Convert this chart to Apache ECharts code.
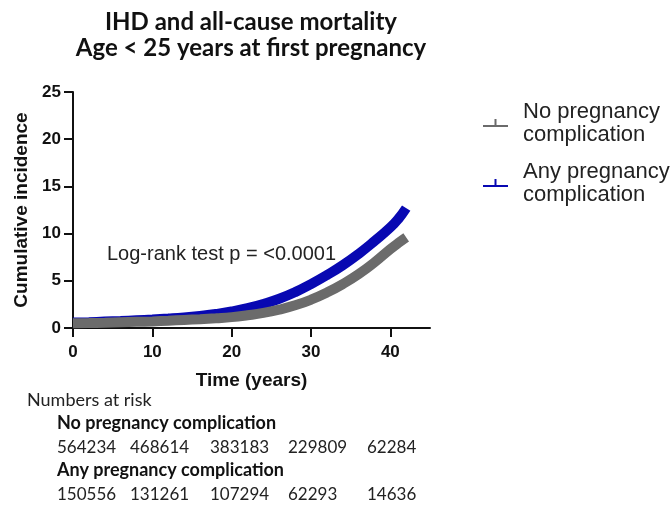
<!DOCTYPE html>
<html><head><meta charset="utf-8">
<script src="https://cdn.jsdelivr.net/npm/echarts@6/dist/echarts.min.js"></script>
<style>html,body{margin:0;padding:0;background:#fff;}#c{width:671px;height:506px;}</style>
</head><body><div id="c"></div>
<script>
// ---- data ----
const titleLines = ['IHD and all-cause mortality', 'Age < 25 years at first pregnancy'];
const seriesNames = ['No pregnancy complication', 'Any pregnancy complication'];
const legendLabels = ['No pregnancy\ncomplication', 'Any pregnancy\ncomplication'];
const timeYears = [0,2,4,6,8,10,12,14,16,18,20,22,24,26,28,30,32,34,36,38,40,41,42];
const noComplication = [0.5,0.52,0.55,0.6,0.65,0.7,0.77,0.85,0.93,1.03,1.15,1.35,1.6,1.95,2.4,3.0,3.75,4.65,5.7,6.95,8.35,9.0,9.6];
const anyComplication = [0.58,0.62,0.68,0.74,0.82,0.9,1.0,1.12,1.28,1.48,1.75,2.1,2.55,3.1,3.8,4.65,5.6,6.65,7.85,9.2,10.65,11.55,12.7];
const xTicks = [0,10,20,30,40];
const logRankText = 'Log-rank test p = <0.0001';
const riskHeader = 'Numbers at risk';
const riskNoComplication = [564234, 468614, 383183, 229809, 62284];
const riskAnyComplication = [150556, 131261, 107294, 62293, 14636];

const GRAY = '#6b6b6b', BLUE = '#0808b2';
const chart = echarts.init(document.getElementById('c'), null, {renderer:'canvas'});
const pair = (xs, ys) => xs.map((x,i)=>[x, ys[i]]);
const legendIcon = 'path://M0,6 L25,6 L25,8 L0,8 Z M11.5,0 L13.5,0 L13.5,6 L11.5,6 Z';

const riskCols = [57,130,210,288,367];
const graphics = [
  {type:'text', left:107, top:244, style:{text:logRankText, font:'20px "Liberation Sans", Arial', fill:'#222'}},
  {type:'text', left:27, top:391, style:{text:riskHeader, font:'18px Lato', fill:'#222'}},
  {type:'text', left:57, top:414, style:{text:seriesNames[0], font:'bold 18px Lato', fill:'#111'}},
  {type:'text', left:57, top:461, style:{text:seriesNames[1], font:'bold 18px Lato', fill:'#111'}}
];
riskNoComplication.forEach((v,i)=>graphics.push({type:'text', left:riskCols[i], top:439, style:{text:String(v), font:'17px Lato', fill:'#222'}}));
riskAnyComplication.forEach((v,i)=>graphics.push({type:'text', left:riskCols[i], top:486, style:{text:String(v), font:'17px Lato', fill:'#222'}}));

chart.setOption({
  animation:false,
  title:{text:titleLines.join('\n'), left:246, textAlign:'center', top:4,
    textStyle:{fontFamily:'Lato', fontWeight:'bold', fontSize:24, lineHeight:26, color:'#111'}},
  legend:{orient:'vertical', left:483, top:100, padding:0, itemWidth:25, itemHeight:8, itemGap:14,
    icon:legendIcon, data:seriesNames,
    formatter:(n)=>legendLabels[seriesNames.indexOf(n)],
    itemStyle:{borderWidth:0},
    textStyle:{fontFamily:'"Liberation Sans", Arial', fontSize:22, lineHeight:23, color:'#222', padding:[0,0,0,10]}},
  grid:{left:73, right:241, top:92, bottom:178},
  xAxis:{type:'value', min:0, max:45, interval:10, name:'Time (years)', nameLocation:'middle', nameGap:43,
    nameTextStyle:{fontFamily:'"Liberation Sans", Arial', fontWeight:'bold', fontSize:19, color:'#111'},
    axisLine:{lineStyle:{color:'#111', width:2}},
    axisTick:{show:true, length:9, lineStyle:{color:'#111', width:2}, customValues:xTicks},
    axisLabel:{customValues:xTicks, margin:16, fontFamily:'"Liberation Sans", Arial', fontWeight:'bold', fontSize:17, color:'#111'},
    splitLine:{show:false}},
  yAxis:{type:'value', min:0, max:25, interval:5, name:'Cumulative incidence', nameLocation:'middle', nameGap:41,
    nameTextStyle:{fontFamily:'"Liberation Sans", Arial', fontWeight:'bold', fontSize:19, color:'#111'},
    axisLine:{show:true, lineStyle:{color:'#111', width:2}},
    axisTick:{show:true, length:9, lineStyle:{color:'#111', width:2}},
    axisLabel:{margin:12, fontFamily:'"Liberation Sans", Arial', fontWeight:'bold', fontSize:17, color:'#111'},
    splitLine:{show:false}},
  series:[
    {name:seriesNames[1], type:'line', data:pair(timeYears, anyComplication), smooth:0.5, showSymbol:false,
      color:BLUE, lineStyle:{color:BLUE, width:10}, z:2},
    {name:seriesNames[0], type:'line', data:pair(timeYears, noComplication), smooth:0.5, showSymbol:false,
      color:GRAY, lineStyle:{color:GRAY, width:10}, z:3}
  ],
  graphic:graphics
});
</script></body></html>
